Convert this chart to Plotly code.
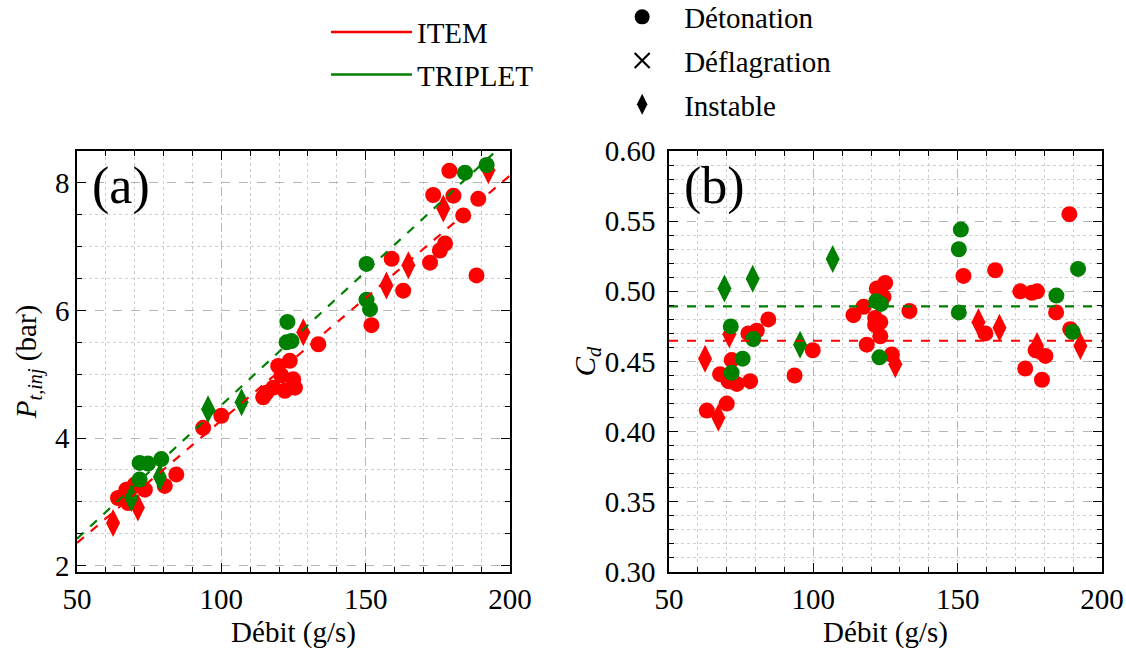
import numpy as np
import plotly.graph_objects as go

# ---------------- data ----------------
# Panel (a): P_t,inj (bar) vs débit (g/s)
item_det_x_a = [179.0, 173.4, 180.4, 189.0, 183.8, 177.5, 175.7, 172.3, 188.4, 159.0, 163.0, 152.0,
                133.6, 119.7, 123.7, 120.8, 124.9, 118.0, 114.5, 125.5, 122.0, 115.6, 100.0, 93.7,
                84.4, 80.4, 73.5, 70.0, 64.2, 67.1, 67.7]
item_det_p = [8.19, 7.81, 7.80, 7.75, 7.49, 7.05, 6.94, 6.75, 6.55, 6.81, 6.31, 5.77,
              5.47, 5.13, 5.21, 4.98, 4.92, 4.79, 4.64, 4.79, 4.74, 4.71, 4.35, 4.16,
              3.43, 3.25, 3.19, 3.27, 3.06, 3.19, 2.98]
item_ins_x_a = [176.9, 192.5, 164.8, 157.2, 128.4, 71.1, 62.5]
item_ins_p = [7.60, 8.20, 6.71, 6.39, 5.66, 2.91, 2.67]

trip_det_x_a = [184.4, 191.9, 150.3, 150.3, 151.5, 122.9, 122.6, 124.3, 71.7, 74.6, 79.2, 71.7]
trip_det_p = [8.16, 8.28, 6.73, 6.17, 6.02, 5.82, 5.50, 5.52, 3.61, 3.60, 3.67, 3.35]
trip_ins_x_a = [68.8, 78.7, 95.4, 107.0]
trip_ins_p = [3.06, 3.39, 4.45, 4.56]

# linear fits (ITEM, TRIPLET)
fit_slope = [0.03841, 0.04187]
fit_intercept = [0.435, 0.329]

# Panel (b): C_d vs débit (g/s)
item_det_x_b = [188.7, 163.0, 152.0, 171.7, 175.7, 177.5, 184.1, 189.0, 177.0, 180.4,
                173.4, 179.2, 159.6, 133.3, 124.9, 122.0, 124.3, 113.9, 117.4, 121.4,
                123.2, 121.4, 123.2, 118.5, 127.2, 99.8, 93.5, 84.4, 80.4, 77.5,
                71.7, 67.7, 70.6, 73.5, 78.1, 70.0, 63.1]
item_det_cd = [0.555, 0.515, 0.511, 0.500, 0.499, 0.500, 0.485, 0.473, 0.458, 0.454,
               0.445, 0.437, 0.470, 0.486, 0.506, 0.502, 0.496, 0.483, 0.489, 0.481,
               0.478, 0.476, 0.468, 0.462, 0.455, 0.458, 0.440, 0.480, 0.472, 0.470,
               0.451, 0.441, 0.436, 0.434, 0.436, 0.420, 0.415]
item_ins_x_b = [192.5, 177.5, 157.2, 164.5, 128.4, 70.9, 67.1, 62.5]
item_ins_cd = [0.461, 0.461, 0.478, 0.474, 0.448, 0.4695, 0.410, 0.452]

trip_det_x_b = [71.4, 71.7, 75.5, 79.2, 121.8, 123.4, 122.9, 151.1, 150.4, 150.4, 184.2, 189.8, 191.7]
trip_det_cd = [0.475, 0.442, 0.452, 0.466, 0.493, 0.491, 0.453, 0.544, 0.530, 0.485, 0.497, 0.471, 0.516]
trip_ins_x_b = [69.2, 79.0, 106.7, 95.4]
trip_ins_cd = [0.502, 0.509, 0.523, 0.462]

cd_mean = [0.4648, 0.4893]  # ITEM, TRIPLET

x_range = [50, 200]
x_ticks = [50, 100, 150, 200]

# ---------------- style ----------------
RED = "#ff0000"
GREEN = "#008000"
FONT = "Liberation Serif"
FS = 29
CIRC = 16
DIAM = 20

fig = go.Figure()


def scat(x, y, color, symbol, size, xa, ya):
    fig.add_trace(go.Scatter(x=x, y=y, mode="markers", xaxis=xa, yaxis=ya, showlegend=False,
                             marker=dict(color=color, symbol=symbol, size=size, line=dict(width=0))))


# panel (a)
scat(item_det_x_a, item_det_p, RED, "circle", CIRC, "x", "y")
scat(item_ins_x_a, item_ins_p, RED, "diamond-tall", DIAM, "x", "y")
scat(trip_det_x_a, trip_det_p, GREEN, "circle", CIRC, "x", "y")
scat(trip_ins_x_a, trip_ins_p, GREEN, "diamond-tall", DIAM, "x", "y")
xl = np.array(x_range, dtype=float)
for s, b, c in zip(fit_slope, fit_intercept, [RED, GREEN]):
    fig.add_trace(go.Scatter(x=xl, y=s * xl + b, mode="lines", xaxis="x", yaxis="y", showlegend=False,
                             line=dict(color=c, width=2.2, dash="dash")))

# panel (b)
scat(item_det_x_b, item_det_cd, RED, "circle", CIRC, "x2", "y2")
scat(item_ins_x_b, item_ins_cd, RED, "diamond-tall", DIAM, "x2", "y2")
scat(trip_det_x_b, trip_det_cd, GREEN, "circle", CIRC, "x2", "y2")
scat(trip_ins_x_b, trip_ins_cd, GREEN, "diamond-tall", DIAM, "x2", "y2")
for m, c in zip(cd_mean, [RED, GREEN]):
    fig.add_trace(go.Scatter(x=x_range, y=[m, m], mode="lines", xaxis="x2", yaxis="y2", showlegend=False,
                             line=dict(color=c, width=2.2, dash="dash")))

# legend entries
for name, c in [("ITEM", RED), ("TRIPLET", GREEN)]:
    fig.add_trace(go.Scatter(x=[None], y=[None], mode="lines", name=name, legend="legend",
                             legendgroup=name, line=dict(color=c, width=2.5)))
for name, sym, lw in [("Détonation", "circle", 0), ("Déflagration", "x-thin-open", 2.2),
                      ("Instable", "diamond-tall", 0)]:
    fig.add_trace(go.Scatter(x=[None], y=[None], mode="markers", name=name, legend="legend2",
                             legendgroup=name,
                             marker=dict(color="black", symbol=sym, size=15,
                                         line=dict(width=lw, color="black"))))

grid_major = dict(showgrid=True, gridcolor="#b5b5b5", griddash="dash", gridwidth=1)
common = dict(showline=True, linecolor="black", linewidth=1.5, mirror="allticks",
              ticks="inside", ticklen=9, tickwidth=1.2, tickcolor="black", automargin=False,
              tickfont=dict(family=FONT, size=FS, color="black"), zeroline=False, **grid_major)


def minor(dt):
    return dict(dtick=dt, ticks="inside", ticklen=5, tickwidth=1, tickcolor="black",
                showgrid=True, gridcolor="#cfcfcf", griddash="dot", gridwidth=1)


dom_y = [1 - 572 / 654, 1 - 151 / 654]
xtitle = dict(text="Débit (g/s)", font=dict(family=FONT, size=FS, color="black"), standoff=8)

fig.update_layout(
    width=1126, height=654,
    margin=dict(l=0, r=0, t=0, b=0, autoexpand=False),
    paper_bgcolor="white", plot_bgcolor="white",
    font=dict(family=FONT, size=FS, color="black"),
    xaxis=dict(domain=[77 / 1126, 510 / 1126], range=x_range, tickvals=x_ticks, anchor="y",
               minor=minor(10), title=xtitle, **common),
    yaxis=dict(domain=dom_y, range=[1.9, 8.5], dtick=2, anchor="x", minor=minor(0.5),
               title=dict(text="<i>P</i><sub><i>t,inj</i></sub> (bar)",
                          font=dict(family=FONT, size=FS, color="black"), standoff=10),
               **common),
    xaxis2=dict(domain=[669 / 1126, 1102 / 1126], range=x_range, tickvals=x_ticks, anchor="y2",
                minor=minor(10), title=xtitle, **common),
    yaxis2=dict(domain=dom_y, range=[0.30, 0.60], dtick=0.05, tickformat=".2f", anchor="x2",
                minor=minor(0.01), ticklabelstandoff=6,
                title=dict(text="<i>C</i><sub><i>d</i></sub>",
                           font=dict(family=FONT, size=FS, color="black"), standoff=0),
                **common),
    legend=dict(x=0.2895, y=0.99, xanchor="left", yanchor="top", bgcolor="rgba(0,0,0,0)",
                font=dict(family=FONT, size=FS, color="black"), tracegroupgap=2,
                traceorder="grouped", itemwidth=81),
    legend2=dict(x=0.533, y=1.013, xanchor="left", yanchor="top", bgcolor="rgba(0,0,0,0)",
                 font=dict(family=FONT, size=FS, color="black"), tracegroupgap=3,
                 traceorder="grouped", itemwidth=74),
    annotations=[
        dict(text="(a)", xref="x domain", yref="y domain", x=0.03, y=0.99, xanchor="left",
             yanchor="top", showarrow=False, font=dict(family=FONT, size=52, color="black")),
        dict(text="(b)", xref="x2 domain", yref="y2 domain", x=0.03, y=0.99, xanchor="left",
             yanchor="top", showarrow=False, font=dict(family=FONT, size=52, color="black")),
    ],
)

fig.write_html("out.html", config={"displayModeBar": False},
               post_script="document.body.style.margin='0px';document.body.style.overflow='hidden';")
